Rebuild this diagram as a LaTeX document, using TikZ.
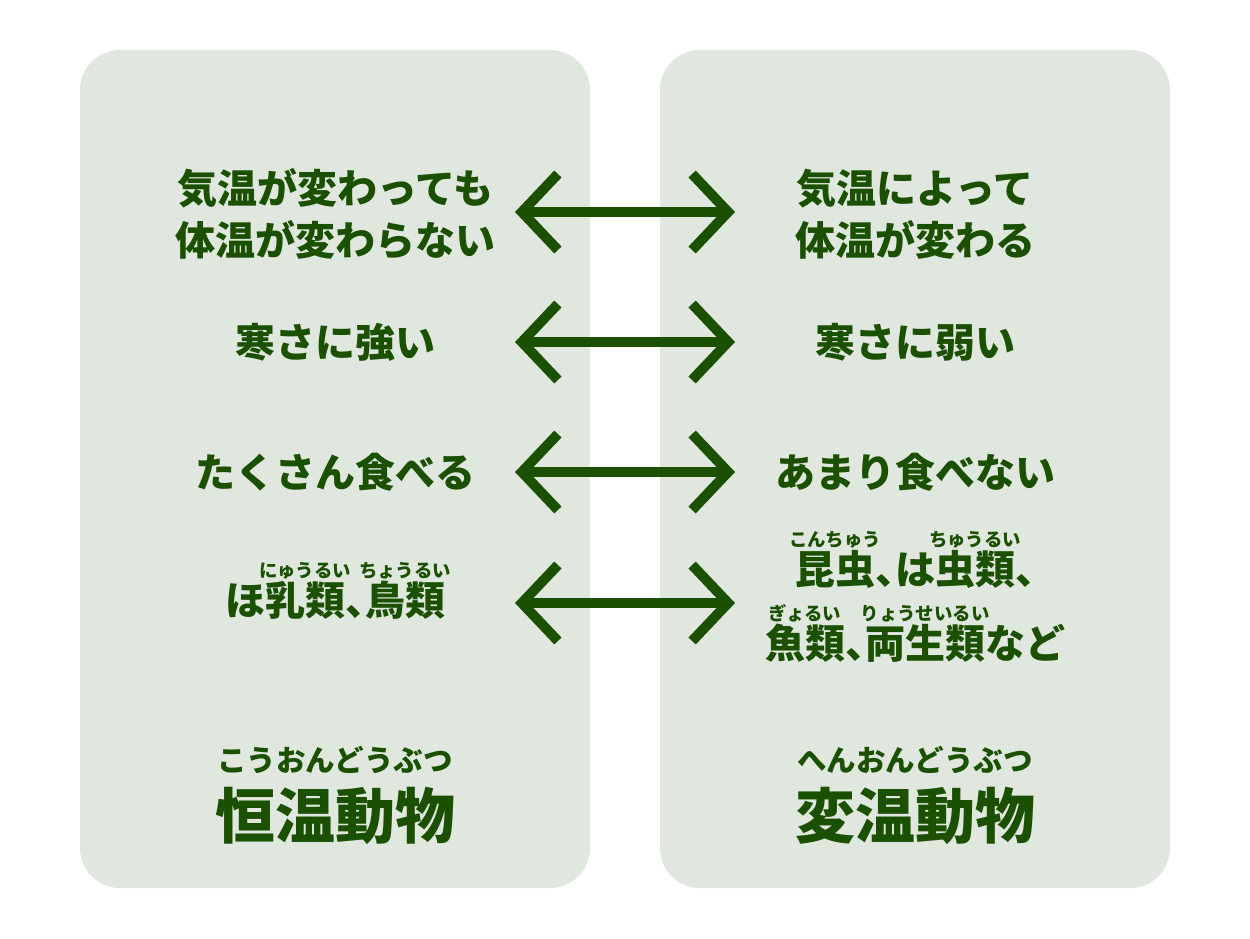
\documentclass[tikz,border=0pt]{standalone}
\usepackage{fontspec}
\usetikzlibrary{arrows.meta}
\newfontfamily\jpfont{Noto Sans CJK JP}
\definecolor{panelgreen}{RGB}{223,231,222}
\definecolor{textgreen}{RGB}{26,80,0}
\begin{document}
\begin{tikzpicture}[x=1pt,y=-1pt,
	panel/.style={fill=panelgreen, rounded corners=40pt},
	biarrow/.style={draw=textgreen, line width=10pt,
		{Straight Barb[sharp,length=36pt,width=76pt]}-{Straight Barb[sharp,length=36pt,width=76pt]}},
	txt/.style={text=textgreen, align=center, anchor=base, inner sep=0pt}]
		\newcommand{\mytextfont}{%
			\jpfont\bfseries\fontsize{40}{52}\selectfont
		}\newcommand{\myrubyfont}{%
			\jpfont\bfseries\fontsize{18.4}{19}\selectfont
		}\newcommand{\mytitlefont}{%
			\jpfont\bfseries\fontsize{60}{62}\selectfont
		}\newcommand{\furi}[2]{%
			\leavevmode\setbox0=\hbox{#1}%
			\hbox{\rlap{\hbox to \wd0{\hss\raisebox{38pt}{\myrubyfont #2}\hss}}\box0}%
		}\newcommand{\halfcomma}{\makebox[0.5em][l]{、}}
		%Page and the two panels
		\useasboundingbox (0,0) rectangle (1250,938);
		\fill[white] (0,0) rectangle (1250,938);
		\path[panel] (80,50) rectangle (590,888);
		\path[panel] (660,50) rectangle (1170,888);
		%Ends of the arrows
		\foreach \i/\y in {1/212,2/342,3/472,4/603} {
			\coordinate (arrL\i) at (515,\y);
			\coordinate (arrR\i) at (735,\y);
		}
		%Left column (base = baseline of the last line)
		\node [txt, font=\mytextfont] (warmA) at (335,255) {気温が変わっても\\体温が変わらない};
		\node [txt, font=\mytextfont] (warmB) at (335,357) {寒さに強い};
		\node [txt, font=\mytextfont] (warmC) at (335,487) {たくさん食べる};
		\node [txt, font=\mytextfont] (warmD) at (335,615) {ほ\furi{乳類}{にゅうるい}\halfcomma\furi{鳥類}{ちょうるい}};
		%Right column
		\node [txt, font=\mytextfont] (coldA) at (915,255) {気温によって\\体温が変わる};
		\node [txt, font=\mytextfont] (coldB) at (915,357) {寒さに弱い};
		\node [txt, font=\mytextfont] (coldC) at (915,487) {あまり食べない};
		\node [txt, font=\mytextfont] (coldD) at (915,658) {\furi{昆虫}{こんちゅう}\halfcomma は\furi{虫類}{ちゅうるい}\halfcomma\\[14pt]\furi{魚類}{ぎょるい}\halfcomma\furi{両生類}{りょうせいるい}など};
		%Titles
		\node [txt, font=\jpfont\bfseries\fontsize{29.5}{30}\selectfont] (warmRuby) at (335,771) {こうおんどうぶつ};
		\node [txt, font=\mytitlefont] (warmTitle) at (335,838) {恒温動物};
		\node [txt, font=\jpfont\bfseries\fontsize{29.5}{30}\selectfont] (coldRuby) at (915,771) {へんおんどうぶつ};
		\node [txt, font=\mytitlefont] (coldTitle) at (915,838) {変温動物};
		%Arrows
		\foreach \i in {1,...,4} {
			\draw [biarrow] (arrL\i) -- (arrR\i);
		}
\end{tikzpicture}
\end{document}
